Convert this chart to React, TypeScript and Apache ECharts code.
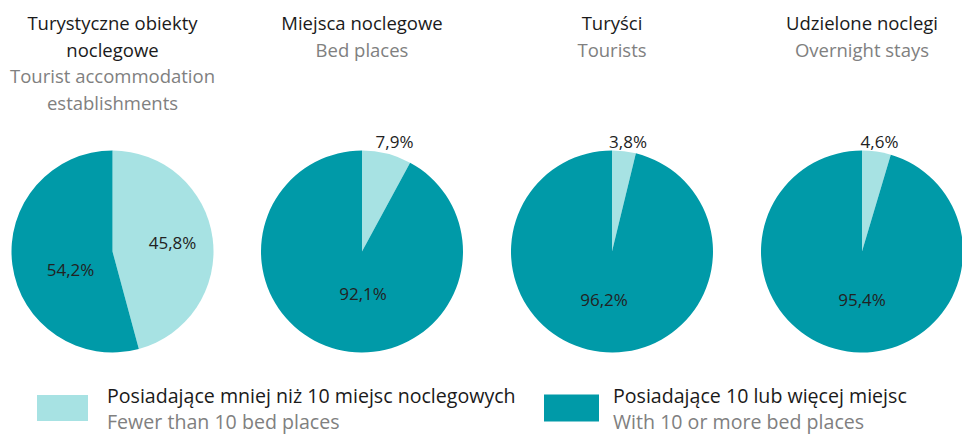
import React, { useEffect, useRef } from "react";
import * as echarts from "echarts";

const categories = ["Posiadające mniej niż 10 miejsc noclegowych", "Posiadające 10 lub więcej miejsc"];
const categoriesEn = ["Fewer than 10 bed places", "With 10 or more bed places"];
const titlesPl = [["Turystyczne obiekty", "noclegowe"], ["Miejsca noclegowe"], ["Turyści"], ["Udzielone noclegi"]];
const titlesEn = [["Tourist accommodation", "establishments"], ["Bed places"], ["Tourists"], ["Overnight stays"]];
const lessShares = [45.8, 7.9, 3.8, 4.6];
const moreShares = [54.2, 92.1, 96.2, 95.4];

// styling: pie layout and label placement (relative to each pie centre)
const PIE_X = [112.5, 362, 612, 862];
const PIE_Y = 251.5;
const R = 101;
const LABEL_REL: number[][][] = [
  [[60, -9], [-42, 17.5]],
  [[32.5, -110.5], [1, 41.5]],
  [[16, -110], [-8, 48]],
  [[17.5, -110], [0, 48]],
];
const LIGHT = "#a7e2e3";
const DARK = "#009aa8";
const FONT = "Open Sans";

function fmt(v: number) {
  return v.toFixed(1).replace(".", ",") + "%";
}

function offsetFor(startPct: number, pct: number, rel: number[]) {
  const theta = ((startPct + pct / 2) / 100) * Math.PI * 2;
  const dx = Math.sin(theta);
  const dy = -Math.cos(theta);
  const d = R / 2 + 3;
  return [rel[0] - d * dx, rel[1] - d * dy];
}

export default function App() {
  const ref = useRef<HTMLDivElement>(null);
  useEffect(() => {
    if (!ref.current) return;
    const chart = echarts.init(ref.current, undefined, { renderer: "svg" });
    const titles = PIE_X.map((x, i) => ({
      left: x,
      top: 9.5,
      textAlign: "center",
      padding: 0,
      text: [
        ...titlesPl[i].map((t) => `{a|${t}}`),
        ...titlesEn[i].map((t) => `{b|${t}}`),
      ].join("\n"),
      textStyle: {
        fontWeight: "normal",
        rich: {
          a: { fontFamily: FONT, fontSize: 18.5, fontWeight: "normal", color: "#1a1a1a", lineHeight: 26.5, align: "center" },
          b: { fontFamily: FONT, fontSize: 18.5, fontWeight: "normal", color: "#808080", lineHeight: 26.5, align: "center" },
        },
      },
    }));
    const series = PIE_X.map((x, i) => ({
      type: "pie",
      center: [x, PIE_Y],
      radius: R,
      startAngle: 90,
      clockwise: true,
      avoidLabelOverlap: false,
      silent: true,
      labelLine: { show: false },
      itemStyle: { borderWidth: 0 },
      label: {
        show: true,
        position: "inside",
        fontFamily: FONT,
        fontSize: 17,
        color: "#222222",
        formatter: (p: any) => fmt(p.value),
      },
      data: [
        {
          name: categories[0],
          value: lessShares[i],
          itemStyle: { color: LIGHT },
          label: { offset: offsetFor(0, lessShares[i], LABEL_REL[i][0]) },
        },
        {
          name: categories[1],
          value: moreShares[i],
          itemStyle: { color: DARK },
          label: { offset: offsetFor(lessShares[i], moreShares[i], LABEL_REL[i][1]) },
        },
      ],
    }));
    const legendRich = (gap: number) => ({
      a: { fontFamily: FONT, fontSize: 19.6, color: "#1a1a1a", lineHeight: 26, padding: [0, 0, 0, gap] },
      b: { fontFamily: FONT, fontSize: 19.6, color: "#808080", lineHeight: 26, padding: [0, 0, 0, gap] },
    });
    const mkLegend = (idx: number, left: number, w: number, h: number, gap: number) => ({
      left,
      top: 385,
      padding: 0,
      orient: "horizontal",
      selectedMode: false,
      icon: "rect",
      itemWidth: w,
      itemHeight: h,
      data: [{ name: categories[idx], itemStyle: { color: idx === 0 ? LIGHT : DARK } }],
      formatter: (name: string) => `{a|${name}}\n{b|${categoriesEn[categories.indexOf(name)]}}`,
      textStyle: { rich: legendRich(gap) },
    });
    chart.setOption({
      animation: false,
      backgroundColor: "#ffffff",
      title: titles,
      legend: [mkLegend(0, 37, 51, 26, 14), mkLegend(1, 544, 55, 27, 9)],
      series,
    });
    return () => chart.dispose();
  }, []);
  return <div ref={ref} style={{ position: "fixed", left: 0, top: 0, width: 962, height: 434 }} />;
}
